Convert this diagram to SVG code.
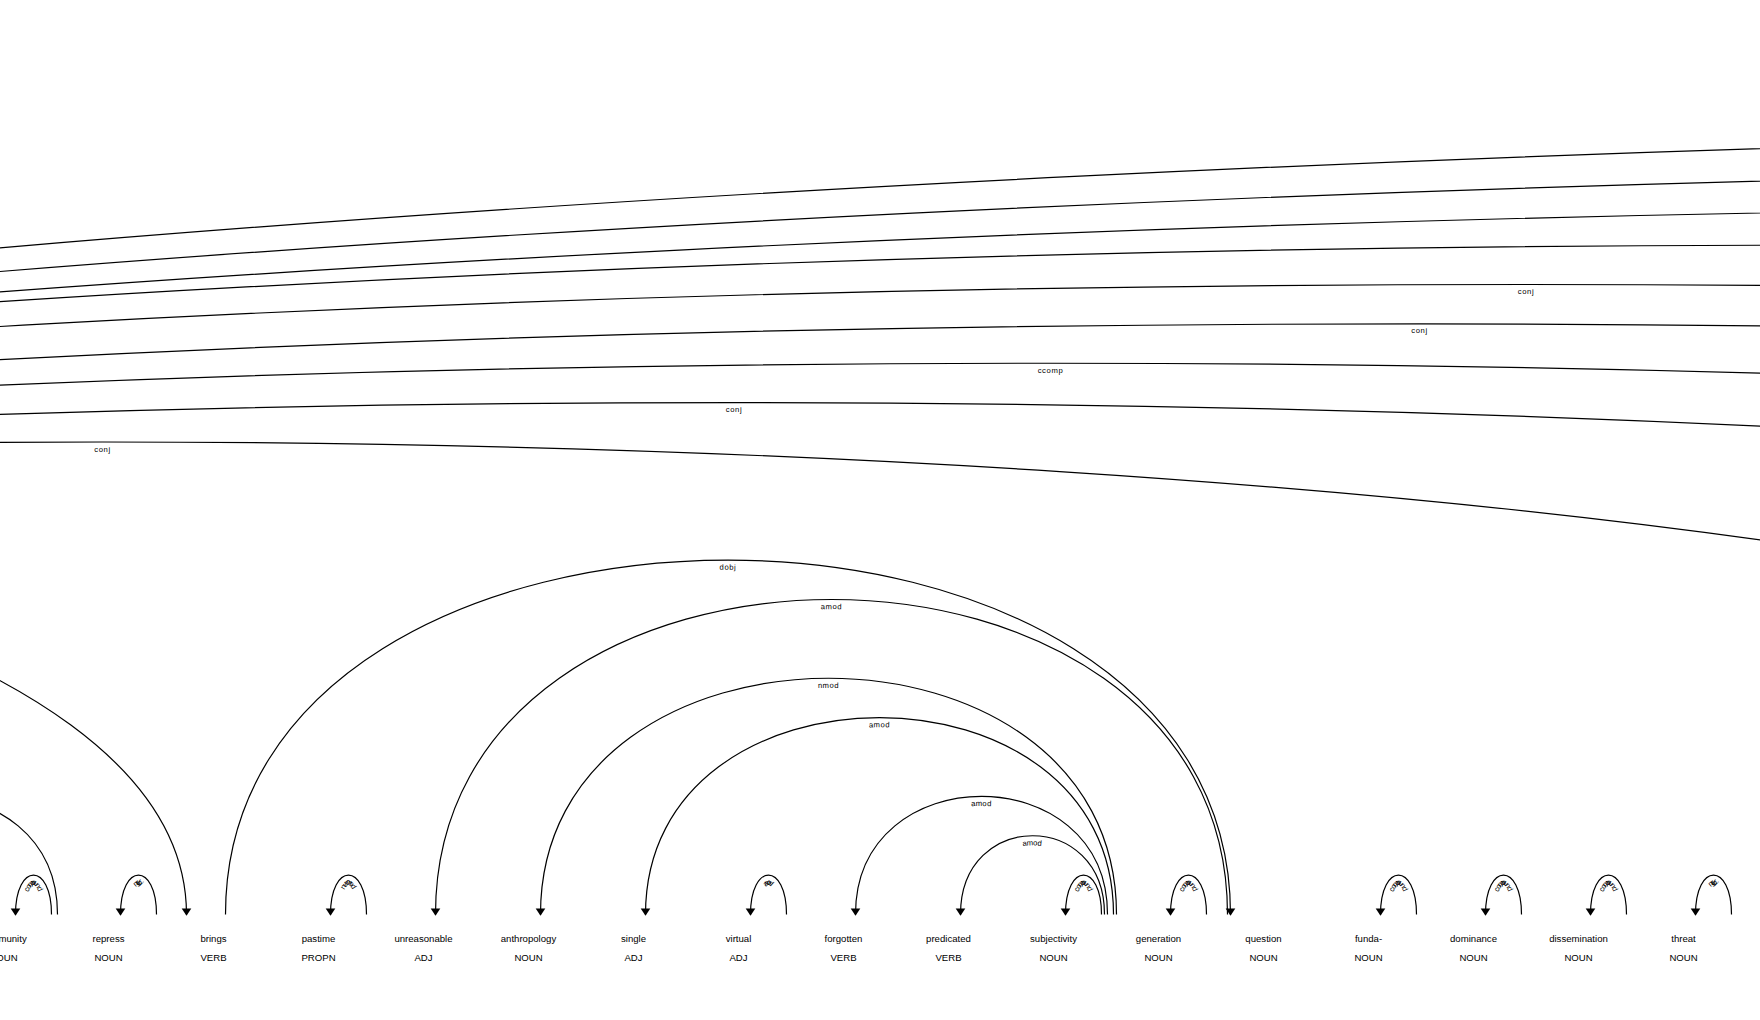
<svg xmlns="http://www.w3.org/2000/svg" width="1760" height="1020" viewBox="0 0 1760 1020">
<style>
.w { font-family: "Liberation Sans", Arial, sans-serif; font-size: 16px; fill: #000; }
.arc { fill: none; stroke: #000; stroke-width: 2px; }
.head { fill: #000; }
.lbl { font-family: "Liberation Sans", Arial, sans-serif; font-size: 12.8px; letter-spacing: 1px; fill: #000; }
</style>
<rect x="0" y="0" width="1760" height="1020" fill="#fff"/>
<g transform="translate(3.5 914.5) scale(0.6)">
<g id="connectors">
<path class="arc" d="M-4180,0 C-4180,-1750 14700,-1750 14700,0"/>
<path class="arc" d="M-4180,0 C-4180,-1662.5 13820,-1662.5 13820,0"/>
<path class="arc" d="M-4180,0 C-4180,-1575 12590,-1575 12590,0"/>
<path class="arc" d="M-4180,0 C-4180,-1487.5 10310,-1487.5 10310,0"/>
<path class="arc" id="a16" d="M-4180,0 C-4180,-1400 9255,-1400 9255,0"/>
<text class="lbl" dy="1.25em"><textPath href="#a16" startOffset="50%" text-anchor="middle">conj</textPath></text>
<path class="arc" id="a15" d="M-4180,0 C-4180,-1312.5 8900,-1312.5 8900,0"/>
<text class="lbl" dy="1.25em"><textPath href="#a15" startOffset="50%" text-anchor="middle">conj</textPath></text>
<path class="arc" id="a14" d="M-4180,0 C-4180,-1225 7670,-1225 7670,0"/>
<text class="lbl" dy="1.25em"><textPath href="#a14" startOffset="50%" text-anchor="middle">ccomp</textPath></text>
<path class="arc" id="a13" d="M-4180,0 C-4180,-1137.5 6615,-1137.5 6615,0"/>
<text class="lbl" dy="1.25em"><textPath href="#a13" startOffset="50%" text-anchor="middle">conj</textPath></text>
<path class="arc" id="a12" d="M-4180,0 C-4180,-1050 4510,-1050 4510,0"/>
<text class="lbl" dy="1.25em"><textPath href="#a12" startOffset="50%" text-anchor="middle">conj</textPath></text>
<path class="arc" d="M-4180,0 C-4180,-962.5 305,-962.5 305,0"/>
<path class="head" d="M305,2 L313,-10 297,-10 Z"/>
<path class="arc" d="M-330,0 C-330,-262.5 90,-262.5 90,0"/>

<path class="arc" id="l0" d="M20,0 C20,-87.5 80,-87.5 80,0"/>
<text class="lbl" dy="1.25em"><textPath href="#l0" startOffset="50%" text-anchor="middle">compound</textPath></text>
<path class="head" d="M20,2 L12,-10 28,-10 Z"/>

<path class="arc" id="l1" d="M195,0 C195,-87.5 255,-87.5 255,0"/>
<text class="lbl" dy="1.25em"><textPath href="#l1" startOffset="50%" text-anchor="middle">nsubj</textPath></text>
<path class="head" d="M195,2 L187,-10 203,-10 Z"/>

<path class="arc" id="dobj" d="M370,0 C370,-787.5 2045,-787.5 2045,0"/>
<text class="lbl" dy="1.25em"><textPath href="#dobj" startOffset="50%" text-anchor="middle">dobj</textPath></text>
<path class="head" d="M2045,2 L2053,-10 2037,-10 Z"/>

<path class="arc" id="l3" d="M545,0 C545,-87.5 605,-87.5 605,0"/>
<text class="lbl" dy="1.25em"><textPath href="#l3" startOffset="50%" text-anchor="middle">nummod</textPath></text>
<path class="head" d="M545,2 L537,-10 553,-10 Z"/>

<path class="arc" id="am8" d="M720,0 C720,-700 2040,-700 2040,0"/>
<text class="lbl" dy="1.25em"><textPath href="#am8" startOffset="50%" text-anchor="middle">amod</textPath></text>
<path class="head" d="M720,2 L712,-10 728,-10 Z"/>

<path class="arc" id="nm6" d="M895,0 C895,-525 1855,-525 1855,0"/>
<text class="lbl" dy="1.25em"><textPath href="#nm6" startOffset="50%" text-anchor="middle">nmod</textPath></text>
<path class="head" d="M895,2 L887,-10 903,-10 Z"/>

<path class="arc" id="am5" d="M1070,0 C1070,-437.5 1850,-437.5 1850,0"/>
<text class="lbl" dy="1.25em"><textPath href="#am5" startOffset="50%" text-anchor="middle">amod</textPath></text>
<path class="head" d="M1070,2 L1062,-10 1078,-10 Z"/>

<path class="arc" id="l7" d="M1245,0 C1245,-87.5 1305,-87.5 1305,0"/>
<text class="lbl" dy="1.25em"><textPath href="#l7" startOffset="50%" text-anchor="middle">amod</textPath></text>
<path class="head" d="M1245,2 L1237,-10 1253,-10 Z"/>

<path class="arc" id="am3" d="M1420,0 C1420,-262.5 1840,-262.5 1840,0"/>
<text class="lbl" dy="1.25em"><textPath href="#am3" startOffset="50%" text-anchor="middle">amod</textPath></text>
<path class="head" d="M1420,2 L1412,-10 1428,-10 Z"/>

<path class="arc" id="am2" d="M1595,0 C1595,-175 1835,-175 1835,0"/>
<text class="lbl" dy="1.25em"><textPath href="#am2" startOffset="50%" text-anchor="middle">amod</textPath></text>
<path class="head" d="M1595,2 L1587,-10 1603,-10 Z"/>

<path class="arc" id="l10" d="M1770,0 C1770,-87.5 1830,-87.5 1830,0"/>
<text class="lbl" dy="1.25em"><textPath href="#l10" startOffset="50%" text-anchor="middle">compound</textPath></text>
<path class="head" d="M1770,2 L1762,-10 1778,-10 Z"/>

<path class="arc" id="l11" d="M1945,0 C1945,-87.5 2005,-87.5 2005,0"/>
<text class="lbl" dy="1.25em"><textPath href="#l11" startOffset="50%" text-anchor="middle">compound</textPath></text>
<path class="head" d="M1945,2 L1937,-10 1953,-10 Z"/>

<path class="arc" id="l13" d="M2295,0 C2295,-87.5 2355,-87.5 2355,0"/>
<text class="lbl" dy="1.25em"><textPath href="#l13" startOffset="50%" text-anchor="middle">compound</textPath></text>
<path class="head" d="M2295,2 L2287,-10 2303,-10 Z"/>

<path class="arc" id="l14" d="M2470,0 C2470,-87.5 2530,-87.5 2530,0"/>
<text class="lbl" dy="1.25em"><textPath href="#l14" startOffset="50%" text-anchor="middle">compound</textPath></text>
<path class="head" d="M2470,2 L2462,-10 2478,-10 Z"/>

<path class="arc" id="l15" d="M2645,0 C2645,-87.5 2705,-87.5 2705,0"/>
<text class="lbl" dy="1.25em"><textPath href="#l15" startOffset="50%" text-anchor="middle">compound</textPath></text>
<path class="head" d="M2645,2 L2637,-10 2653,-10 Z"/>

<path class="arc" id="l16" d="M2820,0 C2820,-87.5 2880,-87.5 2880,0"/>
<text class="lbl" dy="1.25em"><textPath href="#l16" startOffset="50%" text-anchor="middle">nsubj</textPath></text>
<path class="head" d="M2820,2 L2812,-10 2828,-10 Z"/>
</g>
<g id="w0"><text class="w" text-anchor="middle" y="45"><tspan x="0">community</tspan><tspan x="0" dy="2em">NOUN</tspan></text></g>
<g id="w1"><text class="w" text-anchor="middle" y="45"><tspan x="175">repress</tspan><tspan x="175" dy="2em">NOUN</tspan></text></g>
<g id="w2"><text class="w" text-anchor="middle" y="45"><tspan x="350">brings</tspan><tspan x="350" dy="2em">VERB</tspan></text></g>
<g id="w3"><text class="w" text-anchor="middle" y="45"><tspan x="525">pastime</tspan><tspan x="525" dy="2em">PROPN</tspan></text></g>
<g id="w4"><text class="w" text-anchor="middle" y="45"><tspan x="700">unreasonable</tspan><tspan x="700" dy="2em">ADJ</tspan></text></g>
<g id="w5"><text class="w" text-anchor="middle" y="45"><tspan x="875">anthropology</tspan><tspan x="875" dy="2em">NOUN</tspan></text></g>
<g id="w6"><text class="w" text-anchor="middle" y="45"><tspan x="1050">single</tspan><tspan x="1050" dy="2em">ADJ</tspan></text></g>
<g id="w7"><text class="w" text-anchor="middle" y="45"><tspan x="1225">virtual</tspan><tspan x="1225" dy="2em">ADJ</tspan></text></g>
<g id="w8"><text class="w" text-anchor="middle" y="45"><tspan x="1400">forgotten</tspan><tspan x="1400" dy="2em">VERB</tspan></text></g>
<g id="w9"><text class="w" text-anchor="middle" y="45"><tspan x="1575">predicated</tspan><tspan x="1575" dy="2em">VERB</tspan></text></g>
<g id="w10"><text class="w" text-anchor="middle" y="45"><tspan x="1750">subjectivity</tspan><tspan x="1750" dy="2em">NOUN</tspan></text></g>
<g id="w11"><text class="w" text-anchor="middle" y="45"><tspan x="1925">generation</tspan><tspan x="1925" dy="2em">NOUN</tspan></text></g>
<g id="w12"><text class="w" text-anchor="middle" y="45"><tspan x="2100">question</tspan><tspan x="2100" dy="2em">NOUN</tspan></text></g>
<g id="w13"><text class="w" text-anchor="middle" y="45"><tspan x="2275">funda-</tspan><tspan x="2275" dy="2em">NOUN</tspan></text></g>
<g id="w14"><text class="w" text-anchor="middle" y="45"><tspan x="2450">dominance</tspan><tspan x="2450" dy="2em">NOUN</tspan></text></g>
<g id="w15"><text class="w" text-anchor="middle" y="45"><tspan x="2625">dissemination</tspan><tspan x="2625" dy="2em">NOUN</tspan></text></g>
<g id="w16"><text class="w" text-anchor="middle" y="45"><tspan x="2800">threat</tspan><tspan x="2800" dy="2em">NOUN</tspan></text></g>
</g>
</svg>
